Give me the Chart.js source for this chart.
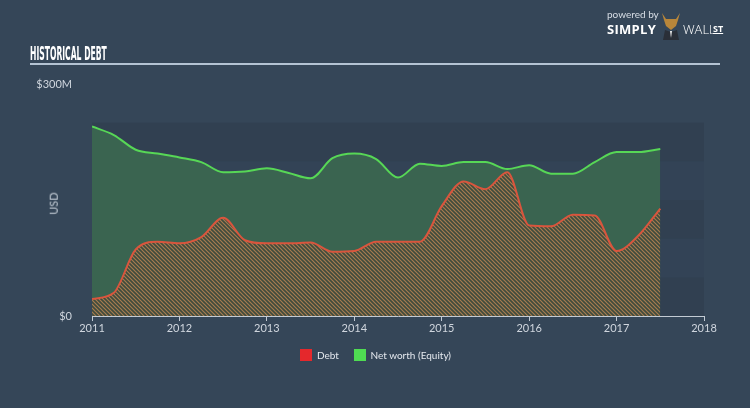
<!DOCTYPE html>
<html>
<head>
<meta charset="utf-8">
<script src="https://cdn.jsdelivr.net/npm/chart.js@4"></script>
<style>
  html, body { margin: 0; padding: 0; }
  body {
    width: 750px; height: 408px; overflow: hidden; position: relative;
    background: #354658;
    font-family: Lato, "Open Sans", sans-serif;
  }
  #wrap { position: absolute; left: 0; top: 0; width: 750px; height: 408px; }
  .title {
    position: absolute; left: 30px; top: 44px; white-space: nowrap;
    color: #fff; font: bold 16px "Liberation Sans Narrow", "DejaVu Sans Condensed", sans-serif;
    transform: scale(0.53, 1.18); transform-origin: left center;
  }
  .rule { position: absolute; left: 30px; top: 63px; width: 690px; height: 2px; background: #b4c3d3; }
  .usd {
    position: absolute; left: 42px; top: 197px; color: #c3ccd6; font-size: 11px;
    transform: rotate(-90deg); transform-origin: center;
  }
  .logo { position: absolute; left: 607px; top: 8px; color: #fff; white-space: nowrap; }
  .logo .pb { font-size: 10px; color: #d8dee6; position: absolute; left: 0; top: 0; }
  .logo .simply { font: bold 13px "Open Sans", sans-serif; position: absolute; left: 0; top: 12px; letter-spacing: 0.3px; }
  .logo .wall { font: 300 13px "Open Sans", sans-serif; position: absolute; left: 76px; top: 12px; }
  .logo .st { font: bold 9px "Open Sans", sans-serif; position: absolute; left: 106px; top: 14px; text-decoration: underline; }
  .logo .bull { position: absolute; left: 53px; top: 2px; width: 22px; height: 30px; }
  .legend { position: absolute; top: 349px; left: 300px; font-size: 10px; color: #e4e8ee; white-space: nowrap; }
  .legend span.sw { display: inline-block; width: 12px; height: 12px; vertical-align: -2px; margin-right: 5px; }
  .legend span.lb { margin-right: 12px; }
</style>
</head>
<body>
<div id="wrap"><canvas id="chart" width="750" height="408"></canvas></div>
<div class="title">HISTORICAL DEBT</div>
<div class="rule"></div>
<div class="usd">USD</div>
<div class="logo">
  <div class="pb">powered by</div>
  <div class="simply">SIMPLY</div>
  <svg class="bull" viewBox="0 0 22 30">
    <path d="M2 3 L6 9 L16 9 L20 3 L18 10 L16 16 L11 20 L6 16 L4 10 Z" fill="#b8863a"/>
    <path d="M5 20 L11 22 L17 20 L19 30 L3 30 Z" fill="#2a2f38"/>
    <path d="M10 21 L12 21 L11 28 Z" fill="#eee"/>
  </svg>
  <div class="wall">WALL</div>
  <div class="st">ST</div>
</div>
<div class="legend">
  <span class="sw" style="background:#e5282c"></span><span class="lb">Debt</span>
  <span class="sw" style="background:#4fdc52"></span><span>Net worth (Equity)</span>
</div>

<script>
// quarterly dates (decimal years)
const dates = [
  2011.0, 2011.25, 2011.5, 2011.75,
  2012.0, 2012.25, 2012.5, 2012.75,
  2013.0, 2013.25, 2013.5, 2013.75,
  2014.0, 2014.25, 2014.5, 2014.75,
  2015.0, 2015.25, 2015.5, 2015.75,
  2016.0, 2016.25, 2016.5, 2016.75,
  2017.0, 2017.25, 2017.5
];

// values in $M
const debt = [
  22, 30, 86, 96,
  94, 102, 127, 98,
  94, 94, 95, 83,
  84, 96, 96, 96,
  142, 174, 164, 186,
  117, 116, 131, 130,
  84, 104, 139
];

const netWorth = [
  245, 234, 215, 210,
  205, 199, 186, 187,
  191, 185, 178, 204,
  210, 203, 179, 197,
  194, 199, 199, 190,
  195, 184, 184, 199,
  212, 212, 216
];

const yTicks = [0, 300];
const yearTicks = [2011, 2012, 2013, 2014, 2015, 2016, 2017, 2018];

function hatch() {
  const c = document.createElement("canvas");
  c.width = 4; c.height = 4;
  const g = c.getContext("2d");
  g.fillStyle = "#3f4b3d";
  g.fillRect(0, 0, 4, 4);
  g.strokeStyle = "#a87c50";
  g.lineWidth = 1.2;
  g.beginPath();
  g.moveTo(0, 0); g.lineTo(4, 4);
  g.moveTo(-2, 2); g.lineTo(2, 6);
  g.moveTo(2, -2); g.lineTo(6, 2);
  g.stroke();
  return g.createPattern(c, "repeat");
}

// faint alternating bands behind plot
const bands = {
  id: "bands",
  beforeDatasetsDraw(ch) {
    const { ctx, chartArea: a, scales: { y } } = ch;
    ctx.save();
    for (let v = 0; v < 250; v += 50) {
      const top = y.getPixelForValue(v + 50), bot = y.getPixelForValue(v);
      ctx.fillStyle = (v / 50) % 2 === 0 ? "#314051" : "#334356";
      ctx.fillRect(a.left, top, a.right - a.left, bot - top);
    }
    ctx.restore();
  }
};

const pts = arr => arr.map((v, i) => ({ x: dates[i], y: v }));

new Chart(document.getElementById("chart"), {
  type: "line",
  data: {
    datasets: [
      {
        label: "Debt",
        data: pts(debt),
        borderColor: "#d9553d",
        borderWidth: 2,
        backgroundColor: hatch(),
        fill: "origin",
        pointRadius: 0,
        cubicInterpolationMode: "monotone"
      },
      {
        label: "Net worth (Equity)",
        data: pts(netWorth),
        borderColor: "#57d756",
        borderWidth: 2,
        backgroundColor: "#3a6450",
        fill: "origin",
        pointRadius: 0,
        cubicInterpolationMode: "monotone"
      }
    ]
  },
  options: {
    responsive: false,
    animation: false,
    layout: { padding: { left: 0, right: 46, top: 84, bottom: 0 } },
    plugins: { legend: { display: false }, tooltip: { enabled: false } },
    scales: {
      x: {
        type: "linear",
        min: 2011, max: 2018,
        afterFit(s) { s.height = 92; },
        afterBuildTicks(s) { s.ticks = yearTicks.map(v => ({ value: v })); },
        ticks: {
          color: "#d0d6de",
          font: { family: "Lato", size: 11 },
          padding: 1,
          maxRotation: 0,
          callback: v => String(v)
        },
        grid: { drawOnChartArea: false, drawTicks: true, tickLength: 5, color: "#c3cbd4" },
        border: { display: true, color: "#c3cbd4", width: 1 }
      },
      y: {
        min: 0, max: 300,
        afterFit(s) { s.width = 92; },
        afterBuildTicks(s) { s.ticks = yTicks.map(v => ({ value: v })); },
        ticks: {
          color: "#d0d6de",
          font: { family: "Lato", size: 11 },
          padding: 12,
          callback: v => "$" + v + (v ? "M" : "")
        },
        grid: { display: false },
        border: { display: false }
      }
    }
  },
  plugins: [bands]
});
</script>
</body>
</html>
